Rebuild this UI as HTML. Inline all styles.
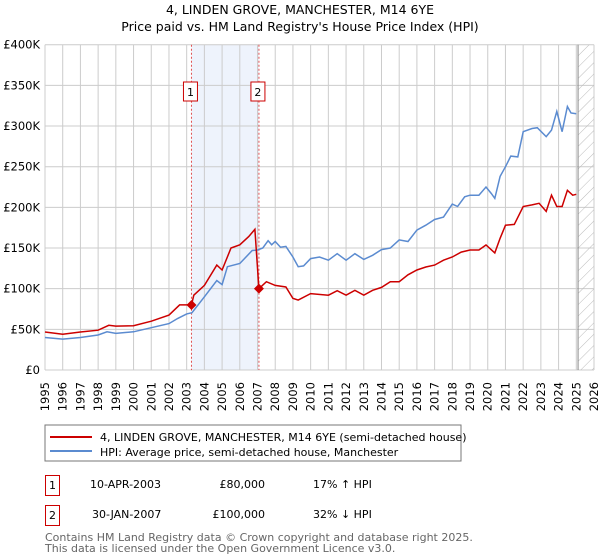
<!DOCTYPE html>
<html><head><meta charset="utf-8">
<style>
body{margin:0;background:#fff;font-family:"DejaVu Sans","Liberation Sans",sans-serif;}
#wrap{position:relative;width:600px;height:560px;overflow:hidden;}
svg text{font-family:"DejaVu Sans","Liberation Sans",sans-serif;}
</style></head>
<body>
<div id="wrap">
<svg id="chart" width="600" height="560">
<text x="300" y="14" text-anchor="middle" font-size="12.5" fill="#000">4, LINDEN GROVE, MANCHESTER, M14 6YE</text>
<text x="300" y="31" text-anchor="middle" font-size="12.5" fill="#000">Price paid vs. HM Land Registry's House Price Index (HPI)</text>
<g id="grid"></g><g id="marks"></g><g id="axes"></g>
<rect x="45" y="425" width="416" height="36" fill="#fff" stroke="#777"/>
<line x1="50" y1="437" x2="92" y2="437" stroke="#cc0000" stroke-width="2"/>
<text x="100" y="441" font-size="11">4, LINDEN GROVE, MANCHESTER, M14 6YE (semi-detached house)</text>
<line x1="50" y1="451" x2="92" y2="451" stroke="#5b8bd0" stroke-width="2"/>
<text x="100" y="456" font-size="11">HPI: Average price, semi-detached house, Manchester</text>
<rect x="45.5" y="475.5" width="14" height="20" fill="#fff" stroke="#cc0000"/>
<text x="52.5" y="489" text-anchor="middle" font-size="11">1</text>
<text x="90" y="488" font-size="11">10-APR-2003</text>
<text x="265" y="488" text-anchor="end" font-size="11">£80,000</text>
<text x="313" y="488" font-size="11">17% ↑ HPI</text>
<rect x="45.5" y="505.5" width="14" height="20" fill="#fff" stroke="#cc0000"/>
<text x="52.5" y="519" text-anchor="middle" font-size="11">2</text>
<text x="92" y="518" font-size="11">30-JAN-2007</text>
<text x="265" y="518" text-anchor="end" font-size="11">£100,000</text>
<text x="313" y="518" font-size="11">32% ↓ HPI</text>
<text x="45" y="541" font-size="11" fill="#666">Contains HM Land Registry data © Crown copyright and database right 2025.</text>
<text x="45" y="552" font-size="11" fill="#666">This data is licensed under the Open Government Licence v3.0.</text>
</svg>
</div>
<script>
const yTicks=[0,50000,100000,150000,200000,250000,300000,350000,400000];
const yTickLabels=["£0","£50K","£100K","£150K","£200K","£250K","£300K","£350K","£400K"];
const years=[1995,1996,1997,1998,1999,2000,2001,2002,2003,2004,2005,2006,2007,2008,2009,2010,2011,2012,2013,2014,2015,2016,2017,2018,2019,2020,2021,2022,2023,2024,2025,2026];
const hpiT=[1995,1996,1997,1998,1998.5,1999,2000,2001,2002,2002.5,2003,2003.3,2004,2004.7,2005,2005.3,2006,2006.7,2007,2007.3,2007.6,2007.8,2008,2008.3,2008.6,2009,2009.3,2009.6,2010,2010.5,2011,2011.5,2012,2012.5,2013,2013.5,2014,2014.5,2015,2015.5,2016,2016.5,2017,2017.5,2018,2018.3,2018.7,2019,2019.5,2019.9,2020.2,2020.4,2020.7,2021,2021.3,2021.7,2022,2022.5,2022.8,2023.3,2023.6,2023.9,2024.2,2024.5,2024.7,2025];
const hpiV=[40000,38000,40000,43000,47000,45000,47000,52000,57000,63500,69000,70500,90000,110000,105000,127000,131000,147000,147500,150000,159000,154000,158000,151000,152000,139000,127000,128000,137000,139000,135000,143000,135000,143000,136000,141000,148000,150000,160000,158000,172000,178000,185000,188000,204000,201000,213000,215000,215000,225000,217000,211000,238000,250000,263000,262000,293000,297000,298000,287000,295000,318000,293000,324000,316000,315000];
const propT=[1995,1996,1997,1998,1998.6,1999,2000,2001,2002,2002.6,2003.27,2003.4,2004,2004.7,2005,2005.5,2006,2006.5,2006.85,2007.08,2007.5,2008,2008.6,2009,2009.3,2010,2011,2011.5,2012,2012.5,2013,2013.5,2014,2014.5,2015,2015.5,2016,2016.5,2017,2017.5,2018,2018.5,2019,2019.5,2019.9,2020.4,2020.7,2021,2021.5,2022,2022.5,2022.9,2023.3,2023.6,2023.9,2024.2,2024.5,2024.8,2025];
const propV=[46700,44000,46700,49000,55000,54000,54500,60000,67500,80000,80000,92000,104000,129000,123000,150000,154000,164000,173000,100000,108600,104000,102000,88000,86000,94000,92000,97500,92000,98000,92000,98000,101600,108600,108600,117000,123000,126600,129000,135000,139000,145000,147500,147500,153700,144000,162000,178000,179000,201000,203000,205000,195000,215000,201000,201000,221000,215000,216000];
const saleT=[2003.27,2007.08];
const saleV=[80000,100000];
const saleLabels=["1","2"];
const forecastStart=2025.1;

const NS="http://www.w3.org/2000/svg";
const L=45,R=594,T=44.7,B=370;
const x=t=>L+(t-1995)/(2026-1995)*(R-L);
const y=v=>B-v/400000*(B-T);
function mk(tag,attrs,parent){const e=document.createElementNS(NS,tag);for(const k in attrs)e.setAttribute(k,attrs[k]);parent.appendChild(e);return e;}
const grid=document.getElementById('grid'),marks=document.getElementById('marks'),axes=document.getElementById('axes');
// shaded period
let sh=mk('rect',{x:x(saleT[0]),y:T,width:x(saleT[1])-x(saleT[0]),height:B-T,fill:'#eef3fc'},grid);


yTicks.forEach((v,i)=>{
  let l=mk('line',{x1:L,x2:R,y1:y(v),y2:y(v),stroke:'#ccc'},grid);
  
  
  let t=mk('text',{x:L-5,y:y(v)+4,'text-anchor':'end','font-size':'11.5'},axes);
  t.textContent=yTickLabels[i];
  
  
});
years.forEach(yr=>{
  let l=mk('line',{x1:x(yr),x2:x(yr),y1:T,y2:B,stroke:'#ccc'},grid);
  
  
  let t=mk('text',{x:0,y:0,'text-anchor':'end','font-size':'11.5',transform:`translate(${x(yr)+4},382) rotate(-90)`},axes);
  t.textContent=yr;
  
  
});
// forecast hatch
let defs=mk('defs',{},grid);
let pat=mk('pattern',{id:'hatch',width:8,height:8,patternUnits:'userSpaceOnUse',patternTransform:'rotate(45)'},defs);
mk('line',{x1:0,y1:0,x2:0,y2:8,stroke:'#bbb','stroke-width':1},pat);
let fh=mk('rect',{x:x(forecastStart),y:T,width:R-x(forecastStart),height:B-T,fill:'url(#hatch)'},grid);


let fl=mk('line',{x1:x(forecastStart),x2:x(forecastStart),y1:T,y2:B,stroke:'#888','stroke-width':1},grid);


// sale lines & labels
saleT.forEach((t,i)=>{
  let l=mk('line',{x1:x(t),x2:x(t),y1:T,y2:B,stroke:'#e05050','stroke-dasharray':'2,2'},marks);
  
  
  let b=mk('rect',{x:x(t)-8,y:82,width:14,height:19,fill:'#fff',stroke:'#cc0000'},marks);
  
  
  let tx=mk('text',{x:x(t)-1,y:96,'text-anchor':'middle','font-size':'11'},marks);
  tx.textContent=saleLabels[i];
  
  
});
const path=(ts,vs)=>ts.map((t,i)=>(i?'L':'M')+x(t).toFixed(1)+','+y(vs[i]).toFixed(1)).join('');
let hp=mk('path',{d:path(hpiT,hpiV),fill:'none',stroke:'#5b8bd0','stroke-width':1.5},marks);


let pp=mk('path',{d:path(propT,propV),fill:'none',stroke:'#cc0000','stroke-width':1.5},marks);


saleT.forEach((t,i)=>{
  let cx=x(t),cy=y(saleV[i]);
  let d=mk('polygon',{points:`${cx},${cy-5} ${cx+5},${cy} ${cx},${cy+5} ${cx-5},${cy}`,fill:'#cc0000'},marks);
  
  
});
</script>
</body></html>
